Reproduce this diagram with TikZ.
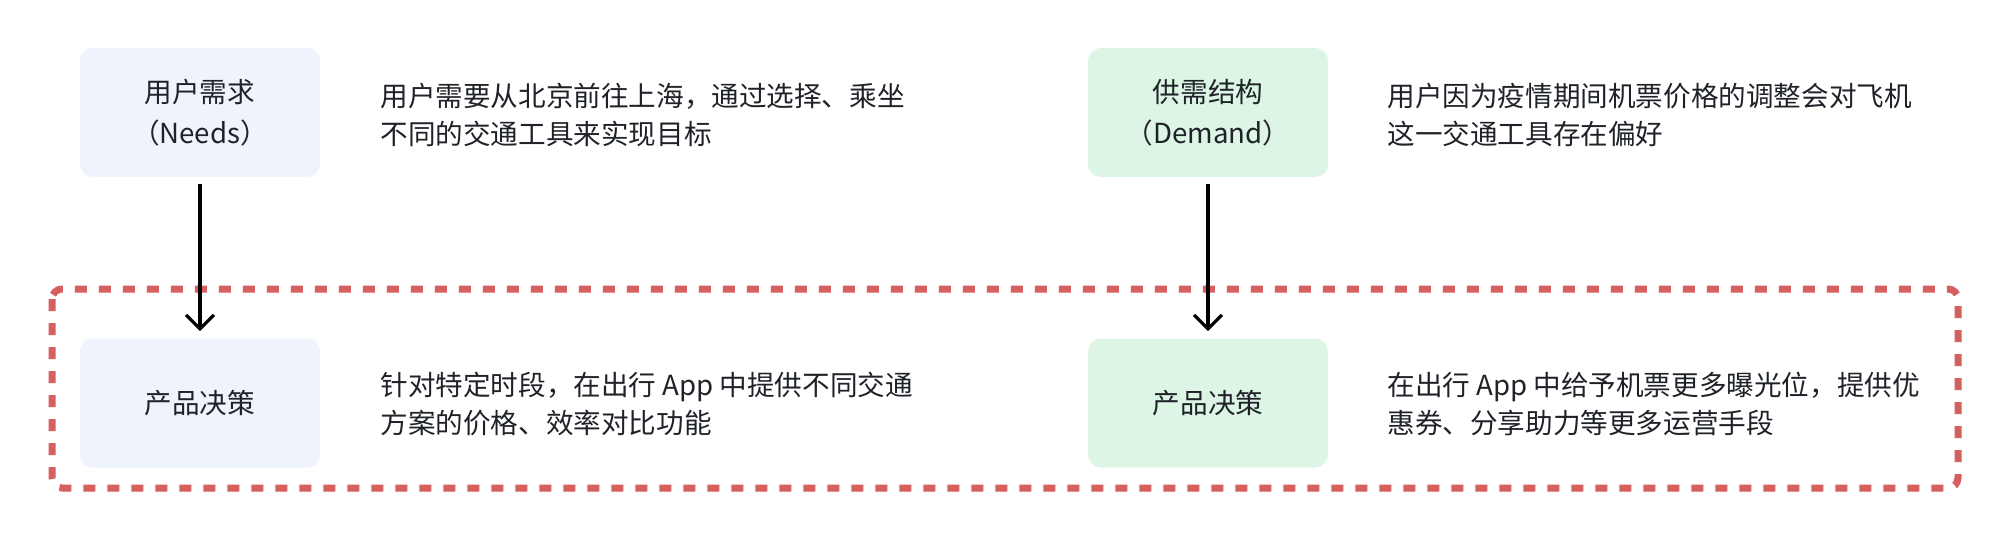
\documentclass[tikz,border=0pt]{standalone}
\usepackage{fontspec}
\setmainfont{Noto Sans CJK SC}
\usetikzlibrary{arrows.meta}
\definecolor{txt}{HTML}{1F2329}
\definecolor{bluebox}{HTML}{EEF3FC}
\definecolor{greenbox}{HTML}{DDF5E5}
\definecolor{redframe}{HTML}{D65F5F}
\tikzset{
  box/.style={rounded corners=6.5pt, minimum width=120pt, minimum height=64.5pt, inner sep=0pt, align=center, text=txt,
    font=\fontsize{13.8pt}{20.5pt}\selectfont},
  bluefill/.style={box, fill=bluebox},
  greenfill/.style={box, fill=greenbox},
  desc/.style={anchor=west, align=left, inner sep=0pt, text=txt, font=\fontsize{13.8pt}{19pt}\selectfont},
  conn/.style={line width=1.6pt, -{Straight Barb[length=7pt,width=14pt,line width=1.6pt]}},
  frame/.style={draw=redframe, line width=3.5pt, dash pattern=on 6pt off 6pt, rounded corners=5pt}
}
\begin{document}
\begin{tikzpicture}[x=0.5pt,y=-0.5pt]
\useasboundingbox (0,0) rectangle (2010,540);
\fill[white] (0,0) rectangle (2010,540);
\draw[frame] (52,289) rectangle (1958,488);
\node[bluefill] (needs) at (200,112.5) {用户需求\\（Needs）};
\node[bluefill] (pd1) at (200,403) {产品决策};
\node[greenfill] (demand) at (1208,112.5) {供需结构\\（Demand）};
\node[greenfill] (pd2) at (1208,403) {产品决策};
\node[desc] (d1) at (380,115) {用户需要从北京前往上海，通过选择、乘坐\\不同的交通工具来实现目标};
\node[desc] (d2) at (380,404) {针对特定时段，在出行 App 中提供不同交通\\方案的价格、效率对比功能};
\node[desc] (d3) at (1387,115) {用户因为疫情期间机票价格的调整会对飞机\\这一交通工具存在偏好};
\node[desc] (d4) at (1387,404) {在出行 App 中给予机票更多曝光位，提供优\\惠券、分享助力等更多运营手段};
\draw[conn] ([yshift=-3.5pt]needs.south) -- ([yshift=3.5pt]pd1.north);
\draw[conn] ([yshift=-3.5pt]demand.south) -- ([yshift=3.5pt]pd2.north);
\end{tikzpicture}
\end{document}
